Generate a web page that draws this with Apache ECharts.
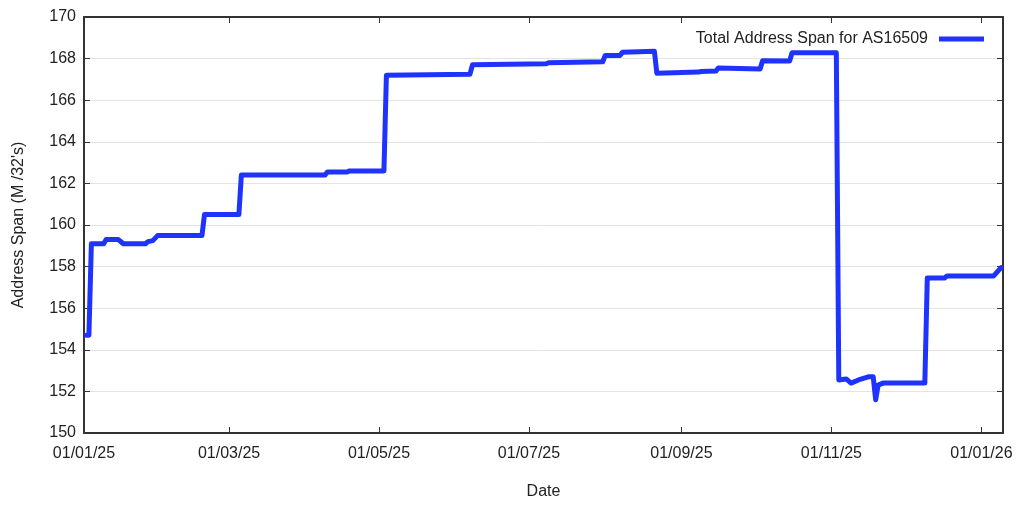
<!DOCTYPE html>
<html>
<head>
<meta charset="utf-8">
<script src="https://cdn.jsdelivr.net/npm/echarts@6/dist/echarts.min.js"></script>
<style>
  html, body { margin: 0; padding: 0; background: #fff; }
  #chart { width: 1024px; height: 510px; }
</style>
</head>
<body>
<div id="chart"></div>
<script>
// data
const dates = [
    '2025-01-02', '2025-01-03', '2025-01-04', '2025-01-09', '2025-01-10', '2025-01-15',
    '2025-01-17', '2025-01-26', '2025-01-27', '2025-01-29', '2025-01-31', '2025-02-18',
    '2025-02-19', '2025-03-05', '2025-03-06', '2025-04-09', '2025-04-10', '2025-04-18',
    '2025-04-19', '2025-05-03', '2025-05-04', '2025-06-07', '2025-06-08', '2025-07-08',
    '2025-07-09', '2025-07-31', '2025-08-01', '2025-08-07', '2025-08-08', '2025-08-21',
    '2025-08-22', '2025-09-08', '2025-09-09', '2025-09-15', '2025-09-16', '2025-10-03',
    '2025-10-04', '2025-10-15', '2025-10-16', '2025-11-03', '2025-11-04', '2025-11-07',
    '2025-11-09', '2025-11-12', '2025-11-16', '2025-11-18', '2025-11-19', '2025-11-20',
    '2025-11-22', '2025-12-09', '2025-12-10', '2025-12-17', '2025-12-18', '2026-01-06',
    '2026-01-09'
];
const spans = [
    154.7, 154.7, 159.1, 159.1, 159.3, 159.3,
    159.1, 159.1, 159.2, 159.25, 159.5, 159.5,
    160.5, 160.5, 162.4, 162.4, 162.55, 162.55,
    162.6, 162.6, 167.2, 167.25, 167.7, 167.75,
    167.8, 167.85, 168.15, 168.15, 168.3, 168.35,
    167.3, 167.35, 167.38, 167.4, 167.55, 167.5,
    167.9, 167.88, 168.28, 168.28, 152.55, 152.6,
    152.4, 152.55, 152.7, 152.7, 151.6, 152.3,
    152.4, 152.4, 157.45, 157.45, 157.55, 157.55,
    157.95
];
const dateTicks = ['2025-01-01', '2025-03-01', '2025-05-01', '2025-07-01', '2025-09-01', '2025-11-01', '2026-01-01'];

function toTime(s) {
    const p = s.split('-').map(Number);
    return Date.UTC(p[0], p[1] - 1, p[2]);
}
const tickValues = dateTicks.map(toTime);
const xMin = toTime('2025-01-01');
const xMax = toTime('2026-01-09') + 19 * 3600 * 1000;

function pad(n) {
    return (n < 10 ? '0' : '') + n;
}
function fmtDate(v) {
    const d = new Date(v);
    return pad(d.getUTCDate()) + '/' + pad(d.getUTCMonth() + 1) + '/' + String(d.getUTCFullYear()).slice(2);
}

const font = 'Liberation Sans, Arial, sans-serif';
const frame = { show: true, lineStyle: { color: '#333', width: 2 } };

const chart = echarts.init(document.getElementById('chart'));
chart.setOption({
    animation: false,
    grid: { left: 84, right: 21, top: 17, bottom: 77 },
    legend: {
        data: ['Total Address Span for AS16509'],
        right: 35,
        top: 26,
        align: 'right',
        icon: 'rect',
        itemWidth: 45,
        itemHeight: 5,
        textStyle: { fontFamily: font, fontSize: 16, color: '#222', padding: [0, 6, 0, 0] },
    },
    xAxis: [
        {
            type: 'value',
            min: xMin,
            max: xMax,
            name: 'Date',
            nameLocation: 'middle',
            nameGap: 51,
            nameTextStyle: { fontFamily: font, fontSize: 16, color: '#222' },
            axisLine: frame,
            axisTick: { show: true, inside: true, length: 6, customValues: tickValues, lineStyle: { color: '#333' } },
            axisLabel: {
                customValues: tickValues,
                formatter: fmtDate,
                margin: 13,
                fontFamily: font,
                fontSize: 16,
                color: '#222',
            },
            splitLine: { show: false },
        },
        {
            type: 'value',
            position: 'top',
            min: xMin,
            max: xMax,
            axisLine: frame,
            axisTick: { show: true, inside: true, length: 6, customValues: tickValues, lineStyle: { color: '#333' } },
            axisLabel: { show: false },
            splitLine: { show: false },
        },
    ],
    yAxis: [
        {
            type: 'value',
            min: 150,
            max: 170,
            interval: 2,
            name: "Address Span (M /32's)",
            nameLocation: 'middle',
            nameGap: 57,
            nameTextStyle: { fontFamily: font, fontSize: 16, color: '#222' },
            axisLine: frame,
            axisTick: { show: true, inside: true, length: 6, lineStyle: { color: '#333' } },
            axisLabel: { margin: 8, fontFamily: font, fontSize: 16, color: '#222' },
            splitLine: { show: true, lineStyle: { color: '#e3e3e3', width: 1 } },
        },
        {
            type: 'value',
            position: 'right',
            min: 150,
            max: 170,
            interval: 2,
            axisLine: frame,
            axisTick: { show: true, inside: true, length: 6, lineStyle: { color: '#333' } },
            axisLabel: { show: false },
            splitLine: { show: false },
        },
    ],
    series: [
        {
            name: 'Total Address Span for AS16509',
            type: 'line',
            showSymbol: false,
            data: dates.map((d, i) => [toTime(d), spans[i]]),
            itemStyle: { color: '#1f33ff' },
            lineStyle: { color: '#1f33ff', width: 5, join: 'round', cap: 'round' },
            z: 3,
        },
    ],
});
</script>
</body>
</html>
